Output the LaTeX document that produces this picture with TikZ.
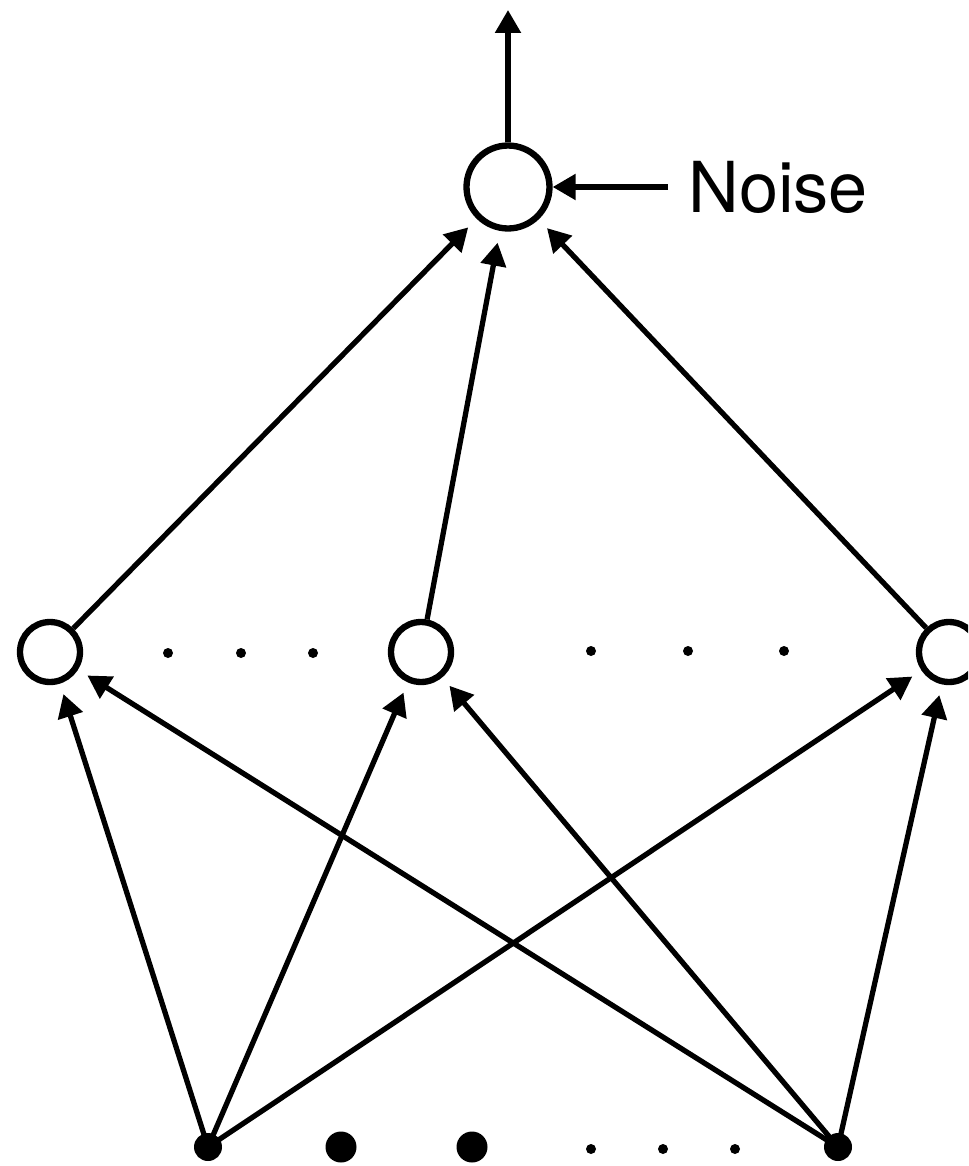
\documentclass[tikz,border=0pt]{standalone}
\usepackage{fontspec}
\setmainfont{TeX Gyre Heros}
\usetikzlibrary{arrows.meta}
\begin{document}
\begin{tikzpicture}[x=0.02cm,y=-0.02cm,
  conn/.style={line width=3pt,-{Triangle[length=0.46cm,width=0.5cm]}},
  bigcirc/.style={circle,draw,line width=3.6pt,minimum size=1.66cm,inner sep=0pt},
  midcirc/.style={circle,draw,line width=3.6pt,minimum size=1.2cm,inner sep=0pt},
  bnode/.style={circle,fill=black,minimum size=0.56cm,inner sep=0pt},
  bigdot/.style={circle,fill=black,minimum size=0.62cm,inner sep=0pt},
  smalldot/.style={circle,fill=black,minimum size=0.2cm,inner sep=0pt},
  intop/.style={shorten >=0.24cm},
  inmid/.style={shorten >=0.22cm}]
\useasboundingbox (0,0) rectangle (968,1166);
\clip (0,0) rectangle (968,1166);
% nodes
\node[bigcirc] (T) at (508,187) {};
\node[midcirc] (L) at (50,652) {};
\node[midcirc] (M) at (421,652) {};
\node[midcirc] (R) at (949,652) {};
\node[bnode] (BL) at (208,1147) {};
\node[bnode] (BR) at (838,1147) {};
\node[bigdot] (D1) at (341,1147) {};
\node[bigdot] (D2) at (472,1147) {};
\node[smalldot] (s1) at (591,1149) {};
\node[smalldot] (s2) at (663,1149) {};
\node[smalldot] (s3) at (735,1149) {};
\node[smalldot] (m1) at (168,653) {};
\node[smalldot] (m2) at (241,653) {};
\node[smalldot] (m3) at (313,653) {};
\node[smalldot] (m4) at (591,651) {};
\node[smalldot] (m5) at (688,651) {};
\node[smalldot] (m6) at (784,651) {};
\node[anchor=base west,inner sep=0pt,font=\fontsize{40}{48}\selectfont] (N) at (688,212) {Noise};
\coordinate (out) at (508,10);
\coordinate (ns) at (668,187);
% connectors
\draw[conn] (T) -- (out);
\draw[conn] (ns) -- (T);
\draw[conn,intop] (L) -- (T);
\draw[conn,intop] (M) -- (T);
\draw[conn,intop] (R) -- (T);
\draw[conn,inmid] (BL.center) -- (L);
\draw[conn,inmid] (BL.center) -- (M);
\draw[conn,inmid] (BL.center) -- (R);
\draw[conn,inmid] (BR.center) -- (L);
\draw[conn,inmid] (BR.center) -- (M);
\draw[conn,inmid] (BR.center) -- (R);
\end{tikzpicture}
\end{document}
